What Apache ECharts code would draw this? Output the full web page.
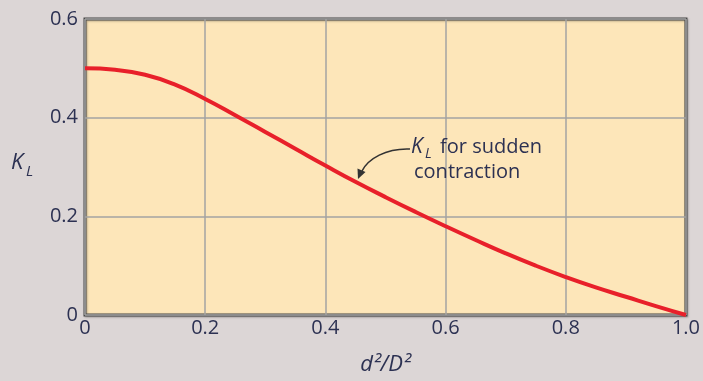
<!DOCTYPE html>
<html>
<head>
<meta charset="utf-8">
<script src="https://cdn.jsdelivr.net/npm/echarts@6/dist/echarts.min.js"></script>
<style>
html,body{margin:0;padding:0;background:#dcd6d6;}
#chart{width:703px;height:381px;}
</style>
</head>
<body>
<div id="chart"></div>
<script>
// Data
const xValues = [0, 0.05, 0.1, 0.15, 0.2, 0.25, 0.3, 0.35, 0.4, 0.45, 0.5, 0.55, 0.6, 0.65, 0.7, 0.75, 0.8, 0.85, 0.9, 0.95, 1.0];
const kLValues = [0.500, 0.497, 0.487, 0.467, 0.438, 0.405, 0.371, 0.337, 0.303, 0.270, 0.239, 0.209, 0.180, 0.152, 0.125, 0.100, 0.077, 0.056, 0.037, 0.018, 0.0];
const xTickLabels = ['0', '0.2', '0.4', '0.6', '0.8', '1.0'];
const yTickLabels = ['0', '0.2', '0.4', '0.6'];
const yAxisSymbol = ['K', 'L'];
const annotationSymbol = ['K', 'L'];
const annotationLine1 = 'for sudden';
const annotationLine2 = 'contraction';

const FONT = 'Open Sans';
const LABEL_COLOR = '#2c3152';

const chart = echarts.init(document.getElementById('chart'));
const seriesData = xValues.map((x, i) => [x, kLValues[i]]);

function txt(left, top, text, size, italic) {
  return {
    type: 'text', left: left, top: top, z: 20,
    style: { text: text, fontFamily: FONT, fontSize: size, fontStyle: italic ? 'italic' : 'normal', fill: LABEL_COLOR }
  };
}

const option = {
  backgroundColor: '#dcd6d6',
  animation: false,
  grid: {
    left: 85, right: 14, top: 19, bottom: 65,
    show: true,
    backgroundColor: '#fde6b9',
    borderColor: '#4a4a4a',
    borderWidth: 3,
    shadowColor: 'rgba(0,0,0,0.25)',
    shadowBlur: 2,
    shadowOffsetX: 1,
    shadowOffsetY: 1
  },
  xAxis: {
    type: 'value', min: 0, max: 1, interval: 0.2,
    axisLine: { show: false },
    axisTick: { show: false },
    splitLine: { show: true, lineStyle: { color: '#a3a3a3', width: 1.5 } },
    axisLabel: {
      margin: 3, color: LABEL_COLOR, fontFamily: FONT, fontSize: 20,
      formatter: v => xTickLabels[Math.round(v / 0.2)]
    },
    name: 'd²/D²',
    nameLocation: 'middle',
    nameGap: 39,
    nameTextStyle: { color: LABEL_COLOR, fontFamily: FONT, fontSize: 22, fontStyle: 'italic' }
  },
  yAxis: {
    type: 'value', min: 0, max: 0.6, interval: 0.2,
    axisLine: { show: false },
    axisTick: { show: false },
    splitLine: { show: true, lineStyle: { color: '#a3a3a3', width: 1.5 } },
    axisLabel: {
      margin: 7, color: LABEL_COLOR, fontFamily: FONT, fontSize: 20,
      formatter: v => yTickLabels[Math.round(v / 0.2)]
    }
  },
  series: [{
    type: 'line',
    data: seriesData,
    smooth: 0.5,
    showSymbol: false,
    lineStyle: { color: '#e8202a', width: 4 },
    z: 5
  }],
  graphic: [
    txt(11, 152, yAxisSymbol[0], 22, true),
    txt(26, 164, yAxisSymbol[1], 15, true),
    txt(411, 137, annotationSymbol[0], 21, true),
    txt(425, 147, annotationSymbol[1], 14, true),
    txt(440, 137, annotationLine1, 20, false),
    txt(414, 162, annotationLine2, 20, false),
    {
      type: 'bezierCurve',
      shape: { x1: 410, y1: 149, cpx1: 386, cpy1: 148, cpx2: 368, cpy2: 159, x2: 362, y2: 171 },
      style: { stroke: '#333', lineWidth: 1.6, fill: null },
      z: 10
    },
    {
      type: 'polygon',
      shape: { points: [[358, 179], [365.5, 172], [357.5, 168.5]] },
      style: { fill: '#333' },
      z: 10
    }
  ]
};
chart.setOption(option);
</script>
</body>
</html>
